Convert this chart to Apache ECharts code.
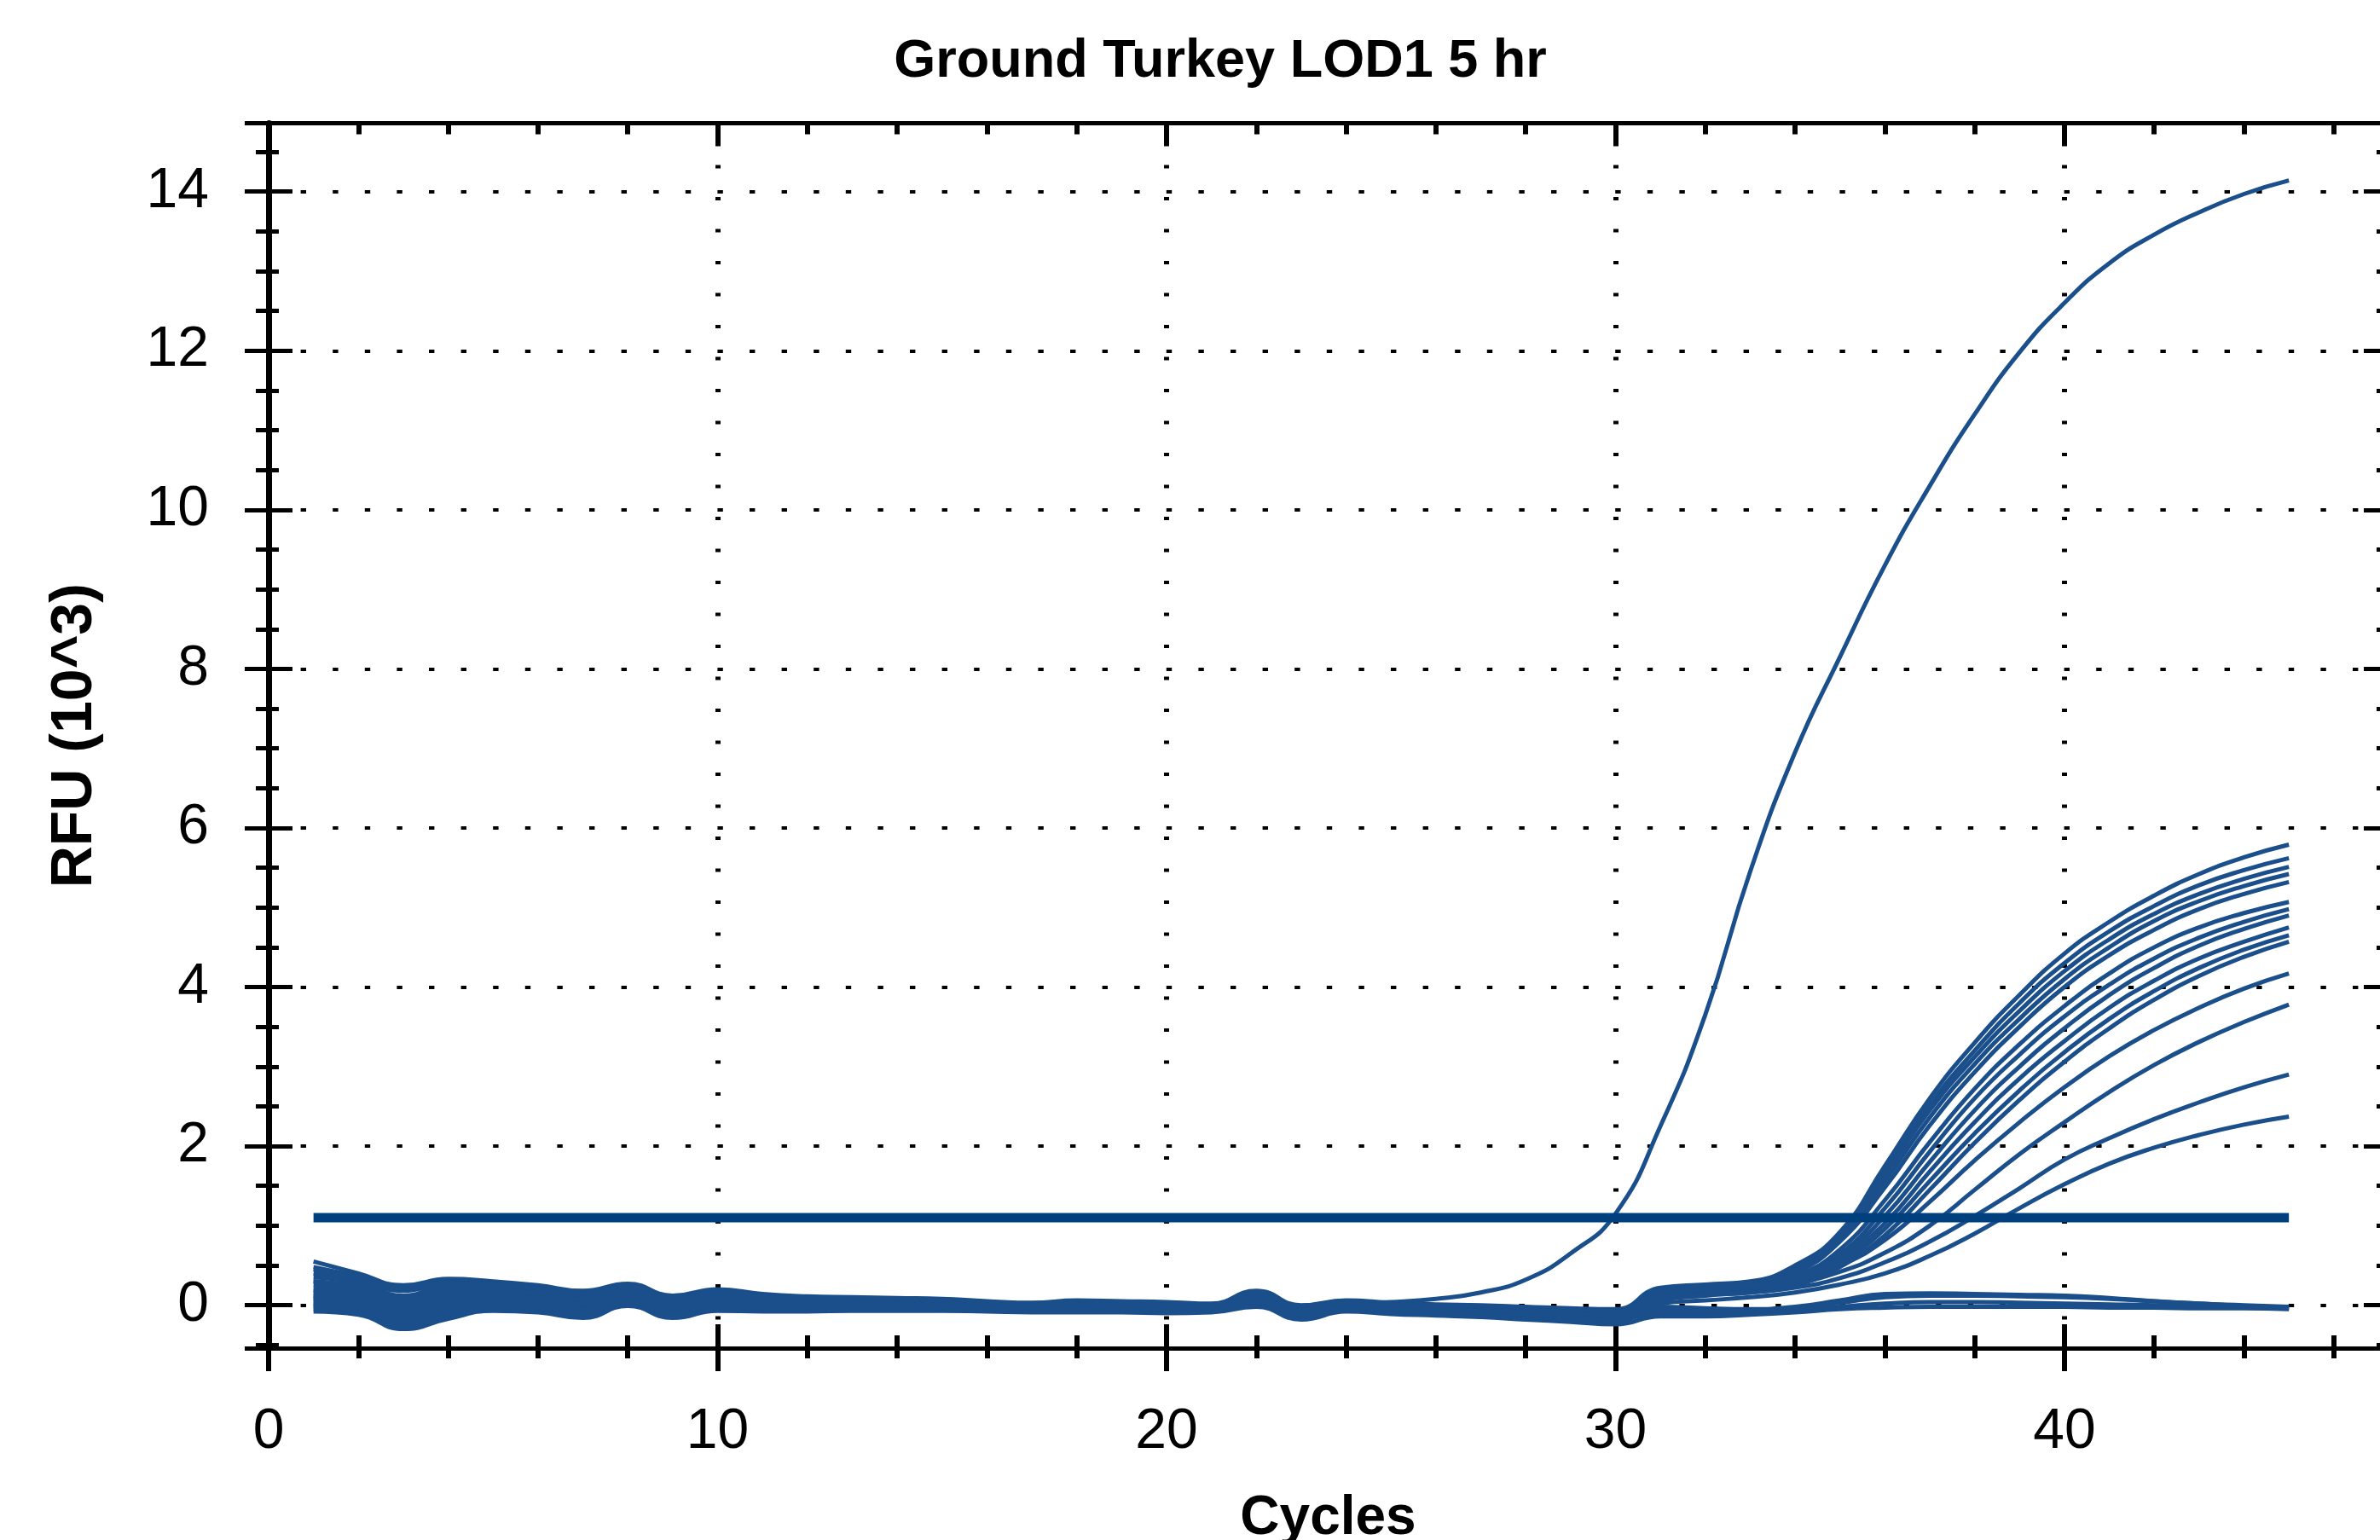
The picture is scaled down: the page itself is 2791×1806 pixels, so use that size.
<!DOCTYPE html>
<html>
<head>
<meta charset="utf-8">
<script src="https://cdn.jsdelivr.net/npm/echarts@6/dist/echarts.min.js"></script>
<style>
  html, body { margin: 0; padding: 0; background: #fff; }
  #chart { width: 2791px; height: 1806px; }
</style>
</head>
<body>
<div id="chart"></div>
<script>
// ---------- data ----------
const TITLE = 'Ground Turkey LOD1 5 hr';
const X_NAME = 'Cycles';
const Y_NAME = 'RFU (10^3)';
const CYCLES = [1,2,3,4,5,6,7,8,9,10,11,12,13,14,15,16,17,18,19,20,21,22,23,24,25,26,27,28,29,30,31,32,33,34,35,36,37,38,39,40,41,42,43,44,45];
const X_TICK_LABELS = [0, 10, 20, 30, 40];
const Y_TICK_LABELS = [0, 2, 4, 6, 8, 10, 12, 14];
const THRESHOLD = 1.10;
const X_MIN = 0, X_MAX = 47.2;
const Y_MIN = -0.54, Y_MAX = 14.86;

const EARLY = [0.30,0.22,0.08,0.18,0.20,0.15,0.08,0.15,0.04,0.08, 0.06,0.05,0.05,0.04,0.04,0.02,0.01,0.02,0.01,0.01, 0.00,0.08,-0.02,0.02,0.04,0.08,0.16,0.32,0.65,1.15, 2.25,3.65,5.45,6.95,8.15,9.30,10.30,11.20,11.98,12.60, 13.10,13.46,13.74,13.97,14.14];
const T1 = [0.55,0.40,0.25,0.33,0.30,0.25,0.18,0.27,0.12,0.20, 0.14,0.11,0.10,0.09,0.08,0.05,0.03,0.06,0.05,0.04, 0.02,0.18,0.00,0.06,0.03,0.01,0.00,-0.02,-0.04,-0.05, 0.22,0.26,0.30,0.50,0.92,1.75,2.60,3.30,3.90,4.42, 4.82,5.15,5.42,5.63,5.79];
const T2 = [0.48,0.36,0.22,0.30,0.28,0.22,0.15,0.24,0.10,0.18, 0.12,0.10,0.09,0.08,0.07,0.04,0.02,0.05,0.04,0.03, 0.01,0.15,-0.01,0.05,0.02,0.00,-0.02,-0.03,-0.05,-0.06, 0.20,0.24,0.28,0.48,0.90,1.70,2.52,3.20,3.80,4.30, 4.70,5.02,5.28,5.47,5.62];
const T3 = [0.35,0.28,0.12,0.25,0.24,0.18,0.10,0.20,0.06,0.14, 0.10,0.08,0.07,0.06,0.06,0.03,0.01,0.03,0.02,0.02, 0.00,0.12,-0.03,0.03,0.01,-0.02,-0.03,-0.05,-0.07,-0.08, 0.18,0.22,0.26,0.46,0.88,1.64,2.45,3.12,3.70,4.20, 4.60,4.92,5.17,5.36,5.51];
const T4 = [0.25,0.18,0.05,0.15,0.16,0.12,0.05,0.15,0.02,0.08, 0.06,0.05,0.05,0.04,0.04,0.01,-0.01,0.01,0.00,0.00, -0.02,0.09,-0.05,0.01,-0.01,-0.04,-0.05,-0.07,-0.09,-0.10, 0.16,0.20,0.24,0.43,0.84,1.56,2.36,3.03,3.60,4.10, 4.50,4.83,5.08,5.27,5.42];
const T5 = [0.20,0.15,0.02,0.12,0.14,0.10,0.04,0.13,0.00,0.06, 0.04,0.04,0.03,0.03,0.03,0.00,-0.02,0.00,-0.01,-0.01, -0.03,0.08,-0.06,0.00,-0.02,-0.05,-0.06,-0.08,-0.10,-0.12, 0.14,0.18,0.22,0.40,0.80,1.48,2.26,2.93,3.50,4.00, 4.40,4.72,4.98,5.17,5.32];
const M1 = [0.15,0.10,-0.02,0.08,0.10,0.07,0.01,0.10,-0.02,0.04, 0.03,0.02,0.02,0.01,0.02,-0.01,-0.03,-0.01,-0.02,-0.02, -0.04,0.06,-0.07,-0.01,-0.03,-0.06,-0.07,-0.09,-0.11,-0.13, 0.14,0.18,0.21,0.36,0.70,1.32,2.05,2.72,3.28,3.76, 4.17,4.50,4.75,4.93,5.07];
const M2 = [0.12,0.06,-0.06,0.05,0.08,0.05,-0.01,0.08,-0.04,0.03, 0.02,0.01,0.01,0.00,0.01,-0.02,-0.04,-0.02,-0.03,-0.03, -0.04,0.05,-0.08,-0.02,-0.04,-0.07,-0.08,-0.10,-0.12,-0.14, 0.13,0.17,0.20,0.33,0.64,1.22,1.93,2.60,3.15,3.63, 4.03,4.36,4.62,4.82,4.98];
const M3 = [0.10,0.04,-0.10,0.02,0.05,0.03,-0.04,0.06,-0.06,0.01, 0.00,0.00,0.00,-0.01,0.00,-0.03,-0.05,-0.03,-0.04,-0.04, -0.05,0.04,-0.09,-0.03,-0.05,-0.08,-0.09,-0.11,-0.13,-0.15, 0.12,0.16,0.19,0.31,0.60,1.12,1.80,2.45,3.00,3.48, 3.90,4.24,4.52,4.73,4.90];
const M4 = [0.05,0.00,-0.15,-0.02,0.02,0.01,-0.07,0.04,-0.08,-0.01, -0.02,-0.02,-0.02,-0.02,-0.01,-0.04,-0.06,-0.05,-0.05,-0.05, -0.06,0.03,-0.11,-0.04,-0.06,-0.09,-0.10,-0.12,-0.15,-0.17, 0.10,0.15,0.18,0.29,0.56,1.03,1.68,2.30,2.85,3.32, 3.74,4.08,4.36,4.57,4.75];
const M5 = [0.00,-0.05,-0.22,-0.08,-0.02,-0.03,-0.10,0.02,-0.11,-0.03, -0.04,-0.04,-0.04,-0.04,-0.03,-0.05,-0.07,-0.06,-0.06,-0.07, -0.07,0.02,-0.13,-0.05,-0.08,-0.10,-0.12,-0.14,-0.17,-0.19, 0.10,0.14,0.17,0.27,0.52,0.96,1.56,2.16,2.70,3.18, 3.60,3.95,4.24,4.47,4.65];
const M6 = [-0.05,-0.10,-0.28,-0.14,-0.05,-0.06,-0.14,0.00,-0.14,-0.05, -0.06,-0.06,-0.06,-0.06,-0.05,-0.07,-0.08,-0.08,-0.08,-0.09, -0.08,0.00,-0.16,-0.07,-0.10,-0.12,-0.14,-0.16,-0.19,-0.22, 0.08,0.13,0.16,0.25,0.48,0.88,1.45,2.04,2.58,3.06, 3.48,3.84,4.14,4.38,4.57];
const L1 = [0.40,0.30,0.18,0.28,0.26,0.20,0.12,0.22,0.08,0.16, 0.11,0.09,0.08,0.07,0.06,0.03,0.01,0.04,0.03,0.02, 0.00,0.14,-0.02,0.04,0.02,-0.01,-0.02,-0.04,-0.06,-0.07, 0.16,0.22,0.24,0.32,0.50,0.82,1.30,1.82,2.30,2.74, 3.13,3.46,3.74,3.98,4.17];
const L2 = [0.30,0.24,0.10,0.22,0.20,0.15,0.08,0.18,0.04,0.12, 0.08,0.06,0.06,0.05,0.05,0.02,0.00,0.02,0.01,0.01, -0.01,0.11,-0.04,0.02,0.00,-0.03,-0.04,-0.06,-0.08,-0.09, 0.14,0.20,0.22,0.28,0.42,0.66,1.00,1.45,1.90,2.30, 2.68,3.02,3.31,3.56,3.78];
const L3 = [0.08,0.02,-0.12,0.00,0.04,0.02,-0.05,0.05,-0.07,0.00, -0.01,-0.01,-0.01,-0.01,-0.01,-0.03,-0.05,-0.04,-0.04,-0.04, -0.05,0.03,-0.10,-0.03,-0.05,-0.08,-0.09,-0.11,-0.14,-0.16, 0.06,0.12,0.16,0.22,0.34,0.54,0.80,1.12,1.47,1.83, 2.10,2.34,2.55,2.74,2.90];
const L4 = [-0.02,-0.08,-0.25,-0.11,-0.04,-0.05,-0.12,0.01,-0.13,-0.04, -0.05,-0.05,-0.05,-0.05,-0.04,-0.06,-0.08,-0.07,-0.07,-0.08, -0.08,0.01,-0.15,-0.06,-0.09,-0.11,-0.13,-0.15,-0.18,-0.21, 0.02,0.06,0.10,0.16,0.26,0.40,0.62,0.90,1.22,1.52, 1.78,1.98,2.14,2.27,2.37];
const N1 = [0.45,0.33,0.20,0.28,0.27,0.21,0.14,0.24,0.10,0.17, 0.12,0.10,0.09,0.08,0.07,0.04,0.02,0.05,0.04,0.03, 0.01,0.16,-0.01,0.05,0.02,0.00,-0.01,-0.03,-0.05,-0.06, -0.02,-0.04,-0.05,-0.02,0.06,0.14,0.15,0.14,0.13,0.12, 0.09,0.05,0.02,-0.01,-0.03];
const N2 = [0.18,0.12,0.00,0.10,0.12,0.08,0.02,0.11,-0.01,0.05, 0.03,0.03,0.02,0.02,0.02,-0.01,-0.02,-0.01,-0.01,-0.01, -0.03,0.07,-0.06,-0.01,-0.03,-0.05,-0.06,-0.08,-0.10,-0.12, -0.06,-0.07,-0.08,-0.04,0.03,0.10,0.12,0.12,0.11,0.10, 0.08,0.05,0.02,0.00,-0.02];
const N3 = [0.02,-0.03,-0.18,-0.05,0.00,-0.01,-0.09,0.03,-0.10,-0.02, -0.03,-0.03,-0.03,-0.03,-0.02,-0.05,-0.06,-0.06,-0.06,-0.06, -0.07,0.02,-0.12,-0.05,-0.07,-0.10,-0.11,-0.13,-0.16,-0.18, -0.10,-0.10,-0.09,-0.06,-0.02,0.02,0.04,0.04,0.03,0.02, 0.01,0.00,-0.02,-0.03,-0.04];
const N4 = [-0.08,-0.12,-0.30,-0.17,-0.07,-0.09,-0.16,-0.01,-0.16,-0.07, -0.08,-0.08,-0.07,-0.07,-0.07,-0.08,-0.09,-0.09,-0.09,-0.10, -0.09,-0.02,-0.18,-0.08,-0.11,-0.13,-0.15,-0.18,-0.21,-0.24, -0.14,-0.14,-0.12,-0.09,-0.05,-0.03,-0.02,-0.02,-0.02,-0.02, -0.03,-0.03,-0.04,-0.04,-0.05];

const CURVES = { EARLY, T1, T2, T3, T4, T5, M1, M2, M3, M4, M5, M6, L1, L2, L3, L4, N1, N2, N3, N4 };

// ---------- styling ----------
const FONT = '"Liberation Sans", Arial, sans-serif';
const BLACK = '#000000';
const BLUE = '#00407f';
const CURVE_BLUE = '#1a4f8c';

function isLabel(list, v) {
  return list.some(t => Math.abs(t - v) < 1e-6);
}

function xAxisBase(extra) {
  return Object.assign({
    type: 'value', min: X_MIN, max: X_MAX, position: 'bottom',
    axisLine: { show: false, onZero: false },
    axisTick: { show: false },
    axisLabel: { show: false },
    splitLine: { show: false },
    minorTick: { show: false }, minorSplitLine: { show: false }
  }, extra);
}
function yAxisBase(extra) {
  return Object.assign({
    type: 'value', min: Y_MIN, max: Y_MAX, position: 'left',
    axisLine: { show: false, onZero: false },
    axisTick: { show: false },
    axisLabel: { show: false },
    splitLine: { show: false },
    minorTick: { show: false }, minorSplitLine: { show: false }
  }, extra);
}

const xAxes = [
  xAxisBase({
    interval: 10,
    axisLine: { show: true, onZero: false, lineStyle: { color: BLACK, width: 5 } },
    axisTick: { show: true, inside: false, length: 27, lineStyle: { color: BLACK, width: 6 } },
    axisLabel: {
      show: true, margin: 66, color: BLACK, fontFamily: FONT, fontSize: 66,
      formatter: v => isLabel(X_TICK_LABELS, v) ? String(Math.round(v)) : ''
    },
    splitLine: { show: true, lineStyle: { color: BLACK, width: 6, type: [4, 33.5], dashOffset: 26 } },
    name: X_NAME, nameLocation: 'middle', nameGap: 168,
    nameTextStyle: { color: BLACK, fontFamily: FONT, fontSize: 64, fontWeight: 'bold' }
  }),
  xAxisBase({ interval: 10, axisTick: { show: true, inside: true, length: 28, lineStyle: { color: BLACK, width: 6 } } }),
  xAxisBase({ interval: 2, axisTick: { show: true, inside: false, length: 12, lineStyle: { color: BLACK, width: 6 } } }),
  xAxisBase({ interval: 2, axisTick: { show: true, inside: true, length: 15, lineStyle: { color: BLACK, width: 6 } } }),
  xAxisBase({ position: 'top', interval: 10,
    axisLine: { show: true, onZero: false, lineStyle: { color: BLACK, width: 5 } },
    axisTick: { show: true, inside: true, length: 27, lineStyle: { color: BLACK, width: 6 } } }),
  xAxisBase({ position: 'top', interval: 2, axisTick: { show: true, inside: true, length: 13, lineStyle: { color: BLACK, width: 6 } } })
];

const yAxes = [
  yAxisBase({
    splitNumber: 7, minInterval: 2, maxInterval: 2,
    axisLine: { show: true, onZero: false, lineStyle: { color: BLACK, width: 7 } },
    axisTick: { show: true, inside: false, length: 28, lineStyle: { color: BLACK, width: 5 } },
    axisLabel: {
      show: true, margin: 70, color: BLACK, fontFamily: FONT, fontSize: 66,
      padding: [0, 0, 16, 0],
      formatter: v => isLabel(Y_TICK_LABELS, v) ? String(Math.round(v)) : ''
    },
    splitLine: { show: true, lineStyle: { color: BLACK, width: 4, type: [6.4, 31.2], dashOffset: 0 } },
    name: Y_NAME, nameLocation: 'middle', nameGap: 193, nameRotate: 90,
    nameTextStyle: { color: BLACK, fontFamily: FONT, fontSize: 68, fontWeight: 'bold' }
  }),
  yAxisBase({ splitNumber: 7, minInterval: 2, maxInterval: 2,
    axisTick: { show: true, inside: true, length: 28, lineStyle: { color: BLACK, width: 5 } } }),
  yAxisBase({ splitNumber: 30, minInterval: 0.5, maxInterval: 0.5,
    axisTick: { show: true, inside: false, length: 15, lineStyle: { color: BLACK, width: 5 } } }),
  yAxisBase({ splitNumber: 30, minInterval: 0.5, maxInterval: 0.5,
    axisTick: { show: true, inside: true, length: 12, lineStyle: { color: BLACK, width: 5 } } }),
  yAxisBase({ position: 'right', splitNumber: 7, minInterval: 2, maxInterval: 2,
    axisLine: { show: true, onZero: false, lineStyle: { color: BLACK, width: 7 } },
    axisTick: { show: true, inside: true, length: 28, lineStyle: { color: BLACK, width: 5 } } }),
  yAxisBase({ position: 'right', splitNumber: 30, minInterval: 0.5, maxInterval: 0.5,
    axisTick: { show: true, inside: true, length: 13, lineStyle: { color: BLACK, width: 5 } } })
];

const series = Object.keys(CURVES).map(name => ({
  name: name,
  type: 'line',
  xAxisIndex: 0, yAxisIndex: 0,
  data: CYCLES.map((c, i) => [c, CURVES[name][i]]),
  showSymbol: false,
  smooth: 0.5,
  silent: true,
  lineStyle: { color: CURVE_BLUE, width: 5 },
  z: 3
}));

series.push({
  name: 'Threshold',
  type: 'line',
  xAxisIndex: 0, yAxisIndex: 0,
  data: [[CYCLES[0], THRESHOLD], [CYCLES[CYCLES.length - 1], THRESHOLD]],
  showSymbol: false,
  silent: true,
  lineStyle: { color: BLUE, width: 11, cap: 'butt' },
  z: 5
});

const chart = echarts.init(document.getElementById('chart'), null, { renderer: 'canvas' });
chart.setOption({
  animation: false,
  backgroundColor: '#ffffff',
  grid: { left: 315, top: 144.5, width: 2485, height: 1436.5, containLabel: false, outerBoundsMode: 'none' },
  xAxis: xAxes,
  yAxis: yAxes,
  graphic: [{
    type: 'text', x: 1431, y: 73, silent: true,
    style: {
      text: TITLE, fill: BLACK,
      font: 'bold 63px ' + FONT,
      align: 'center', verticalAlign: 'middle',
      textAlign: 'center', textVerticalAlign: 'middle'
    }
  }],
  series: series
});
</script>
</body>
</html>
